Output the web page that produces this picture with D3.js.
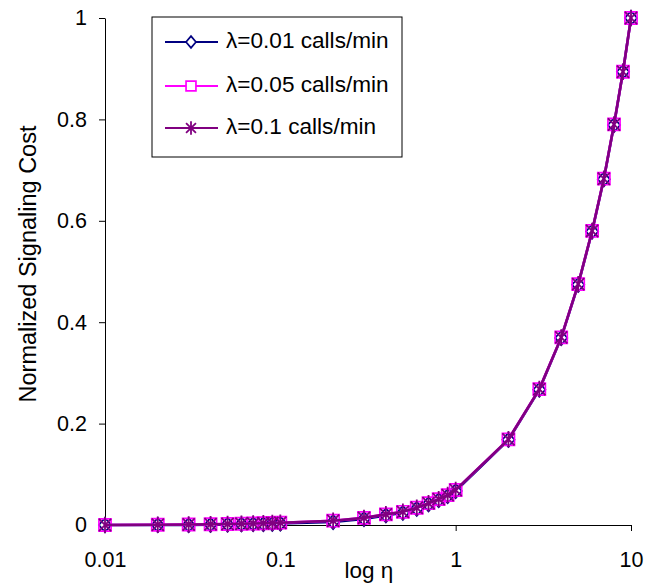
<!DOCTYPE html>
<html>
<head>
<meta charset="utf-8">
<script src="https://cdn.jsdelivr.net/npm/d3@7"></script>
<style>
  html, body { margin: 0; padding: 0; background: #fff; }
  svg { display: block; font-family: "Liberation Sans", Arial, sans-serif; }
</style>
</head>
<body>
<svg id="chart" width="647" height="586"></svg>
<script>
// η sample points (log-spaced decades)
const etaValues = [0.01, 0.02, 0.03, 0.04, 0.05, 0.06, 0.07, 0.08, 0.09,
                   0.1, 0.2, 0.3, 0.4, 0.5, 0.6, 0.7, 0.8, 0.9,
                   1, 2, 3, 4, 5, 6, 7, 8, 9, 10];

// normalized signaling cost per call arrival rate
const costLambda001 = [0, 0, 0, 0.0005, 0.001, 0.0015, 0.002, 0.002, 0.0025,
                       0.003, 0.006, 0.012, 0.019, 0.024, 0.032, 0.041, 0.049, 0.057,
                       0.067, 0.168, 0.267, 0.369, 0.474, 0.579, 0.682, 0.789, 0.894, 1.0];
const costLambda005 = [0, 0.0005, 0.001, 0.0015, 0.002, 0.0025, 0.003, 0.0035, 0.004,
                       0.0045, 0.0085, 0.014, 0.021, 0.026, 0.034, 0.043, 0.051, 0.059,
                       0.069, 0.169, 0.268, 0.370, 0.475, 0.580, 0.683, 0.790, 0.894, 1.0];
const costLambda01  = [0, 0.0005, 0.001, 0.0015, 0.002, 0.0025, 0.003, 0.0035, 0.004,
                       0.0045, 0.0085, 0.014, 0.021, 0.026, 0.034, 0.043, 0.051, 0.059,
                       0.069, 0.169, 0.268, 0.370, 0.475, 0.580, 0.683, 0.790, 0.894, 1.0];

const seriesNames = ["λ=0.01 calls/min", "λ=0.05 calls/min", "λ=0.1 calls/min"];
const xTickValues = [0.01, 0.1, 1, 10];
const xTickLabels = ["0.01", "0.1", "1", "10"];
const yTickValues = [0, 0.2, 0.4, 0.6, 0.8, 1];
const yTickLabels = ["0", "0.2", "0.4", "0.6", "0.8", "1"];

const series = [
  { name: seriesNames[0], values: costLambda001, color: "#000080", marker: "diamond" },
  { name: seriesNames[1], values: costLambda005, color: "#FF00FF", marker: "square" },
  { name: seriesNames[2], values: costLambda01,  color: "#800080", marker: "star" }
];

const svg = d3.select("#chart");
const plot = { left: 105, right: 631, top: 18, bottom: 525 };

const x = d3.scaleLog().domain([0.01, 10]).range([plot.left, plot.right]);
const y = d3.scaleLinear().domain([0, 1]).range([plot.bottom, plot.top]);

// axes
const xAxis = d3.axisBottom(x).tickValues(xTickValues)
  .tickFormat((d, i) => xTickLabels[i]).tickSize(6).tickSizeOuter(0).tickPadding(36);
const yAxis = d3.axisLeft(y).tickValues(yTickValues)
  .tickFormat((d, i) => yTickLabels[i]).tickSize(6).tickSizeOuter(0).tickPadding(12);

const gx = svg.append("g").attr("transform", `translate(0,${plot.bottom})`).call(xAxis);
const gy = svg.append("g").attr("transform", `translate(${plot.left},0)`).call(yAxis);
[gx, gy].forEach(g => {
  g.select(".domain").attr("stroke", "#000").attr("stroke-width", 1);
  g.selectAll(".tick line").attr("stroke", "#000");
  g.selectAll(".tick text").attr("fill", "#000").attr("font-size", 21.5)
    .attr("font-family", '"Liberation Sans", Arial, sans-serif');
});
gx.selectAll(".tick text").attr("dy", 0);

// axis titles
svg.append("text").attr("x", 369).attr("y", 578).attr("text-anchor", "middle")
  .attr("font-size", 22.5).text("log η");
svg.append("text").attr("transform", "translate(36,264) rotate(-90)")
  .attr("text-anchor", "middle").attr("font-size", 23.5).text("Normalized Signaling Cost");

// marker shapes
function markerPath(type, k) {
  if (type === "diamond") return `M0,${-6.5 * k}L${5.5 * k},0L0,${6.5 * k}L${-5.5 * k},0Z`;
  if (type === "square") return `M${-5.5 * k},${-5.5 * k}H${5.5 * k}V${5.5 * k}H${-5.5 * k}Z`;
  const r = 7.5 * k, d = 5.5 * k;
  return `M0,${-r}V${r}M${-d},${-d}L${d},${d}M${d},${-d}L${-d},${d}`;
}
function styleMarker(sel, s, k) {
  sel.attr("d", markerPath(s.marker, k))
    .attr("stroke", s.color)
    .attr("stroke-width", s.marker === "star" ? 1.8 : 1.7)
    .attr("fill", s.marker === "diamond" ? "#fff" : "none");
}

const line = d3.line().x(d => x(d[0])).y(d => y(d[1]));

series.forEach(s => {
  const pts = etaValues.map((e, i) => [e, s.values[i]]);
  const g = svg.append("g");
  g.append("path").datum(pts).attr("d", line)
    .attr("fill", "none").attr("stroke", s.color).attr("stroke-width", 2.6);
  g.selectAll("path.m").data(pts).enter().append("path").attr("class", "m")
    .attr("transform", d => `translate(${x(d[0])},${y(d[1])})`)
    .call(sel => styleMarker(sel, s, 1.1));
});

// legend
const legend = svg.append("g");
legend.append("rect").attr("x", 152).attr("y", 17).attr("width", 250).attr("height", 140)
  .attr("fill", "#fff").attr("stroke", "#000").attr("stroke-width", 1);
const rowY = [42, 86, 128];
series.forEach((s, i) => {
  const gy = rowY[i];
  legend.append("line").attr("x1", 165).attr("x2", 218).attr("y1", gy).attr("y2", gy)
    .attr("stroke", s.color).attr("stroke-width", 1.8);
  legend.append("path").attr("transform", `translate(191,${gy})`)
    .call(sel => styleMarker(sel, s, 0.9))
    .attr("fill", s.marker === "star" ? "none" : "#fff");
  legend.append("text").attr("x", 226).attr("y", gy + 5.5).attr("font-size", 22.6)
    .attr("fill", "#000").text(s.name);
});
</script>
</body>
</html>
